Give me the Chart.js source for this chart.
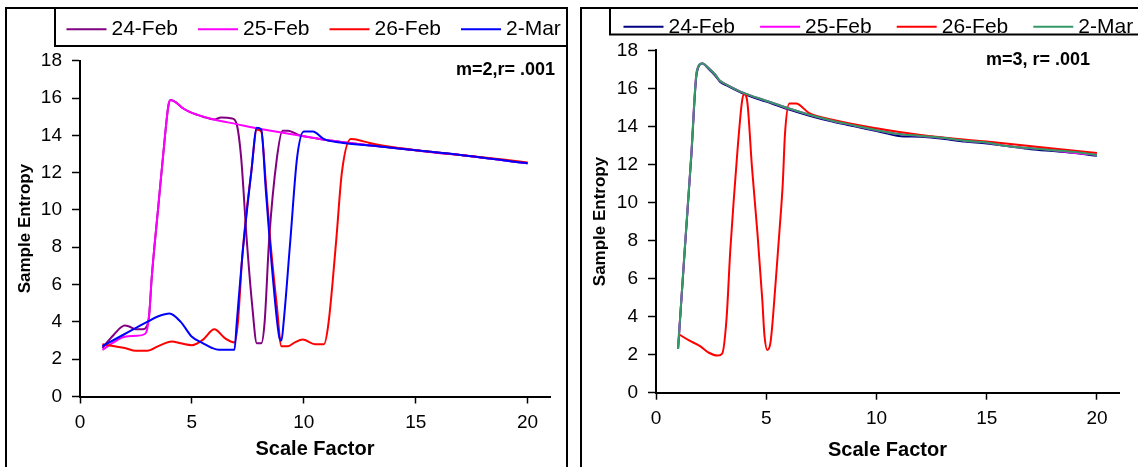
<!DOCTYPE html>
<html>
<head>
<meta charset="utf-8">
<title>Sample Entropy vs Scale Factor</title>
<script src="https://cdn.jsdelivr.net/npm/chart.js@4.4.1/dist/chart.umd.min.js"></script>
<style>
  body { margin: 0; background: #fff; width: 1138px; height: 467px; overflow: hidden; position: relative; }
  canvas { position: absolute; }
  #chartM2 { left: 6px; top: 8px; }
  #chartM3 { left: 582px; top: 8px; }
  .frame { position: absolute; border: 2px solid #000; box-sizing: border-box; pointer-events: none; }
</style>
</head>
<body>
<canvas id="chartM2" width="560" height="459"></canvas>
<canvas id="chartM3" width="556" height="459"></canvas>
<div class="frame" style="left:5px;top:7px;width:563px;height:480px"></div>
<div class="frame" style="left:580px;top:7px;width:600px;height:480px"></div>
<script>
// series labels and tick values
const days = ["24-Feb", "25-Feb", "26-Feb", "2-Mar"];
const xTickValues = [0, 5, 10, 15, 20];

// left panel: m=2, r=.001
const m2Feb24X = [1, 1.5, 2, 2.2, 2.5, 2.8, 3.0, 3.1, 3.2, 3.5, 3.8, 3.95, 4.05, 4.3, 4.6, 5, 5.5, 6, 6.3, 6.8, 7.0, 7.2, 7.45, 7.7, 7.9, 8.1, 8.25, 8.45, 8.8, 9.05, 9.3, 9.8, 10.5, 11, 12, 13, 15, 17, 20];
const m2Feb24Y = [2.6, 3.3, 3.8, 3.75, 3.6, 3.6, 3.8, 4.5, 6.3, 10.2, 14.0, 15.6, 15.9, 15.75, 15.45, 15.2, 15.0, 14.85, 14.95, 14.9, 14.6, 12.8, 8.4, 4.8, 2.85, 2.85, 4.0, 8.4, 12.8, 14.25, 14.25, 14.0, 13.85, 13.75, 13.6, 13.45, 13.2, 12.95, 12.5];

const m2Feb25X = [1, 1.5, 2, 2.5, 2.9, 3.0, 3.1, 3.2, 3.5, 3.8, 3.95, 4.05, 4.3, 4.6, 5, 6, 7, 8, 9, 10, 11, 12, 13, 14, 15, 16, 17, 18, 19, 20];
const m2Feb25Y = [2.5, 2.9, 3.2, 3.25, 3.35, 3.6, 4.5, 6.3, 10.2, 14.0, 15.6, 15.9, 15.75, 15.45, 15.2, 14.85, 14.6, 14.35, 14.15, 13.95, 13.75, 13.6, 13.45, 13.35, 13.2, 13.05, 12.95, 12.8, 12.65, 12.5];

const m2Feb26X = [1, 2, 2.5, 3.0, 3.5, 4.1, 4.5, 5.0, 5.5, 6.0, 6.5, 6.9, 7.05, 7.25, 7.45, 7.65, 7.9, 8.1, 8.3, 8.5, 8.8, 9.0, 9.3, 9.6, 9.95, 10.5, 10.9, 11.1, 11.45, 11.7, 12.1, 12.6, 12.9, 13.5, 15, 17, 20];
const m2Feb26Y = [2.8, 2.6, 2.45, 2.45, 2.7, 2.95, 2.85, 2.75, 3.05, 3.6, 3.1, 2.9, 3.9, 7.5, 10.0, 12.0, 14.3, 14.2, 11.5, 8.4, 4.8, 2.7, 2.7, 2.9, 3.05, 2.8, 2.8, 3.9, 8.4, 12.0, 13.8, 13.7, 13.6, 13.45, 13.2, 12.95, 12.55];

const m2Mar2X = [1, 2, 3, 3.5, 4, 4.5, 5, 5.5, 5.9, 6.2, 6.9, 7.0, 7.25, 7.65, 7.9, 8.1, 8.3, 8.6, 8.9, 9.0, 9.1, 9.4, 9.7, 10.0, 10.4, 10.9, 11.7, 13, 15, 17, 20];
const m2Mar2Y = [2.7, 3.35, 4.0, 4.3, 4.45, 4.0, 3.2, 2.85, 2.6, 2.5, 2.5, 3.9, 7.5, 12.0, 14.4, 14.3, 11.1, 6.6, 3.2, 3.0, 4.0, 8.4, 12.8, 14.2, 14.2, 13.8, 13.6, 13.45, 13.2, 12.95, 12.5];

// right panel: m=3, r=.001
const m3CommonX = [1, 1.3, 1.6, 1.85, 2.1, 2.4, 2.7, 2.9, 3.2, 4, 5, 6, 7, 8, 9, 10, 11, 12, 13, 14, 15, 16, 17, 18, 19, 20];
const m3Feb24Y = [2.3, 7.4, 12.4, 16.8, 17.3, 17.0, 16.65, 16.35, 16.15, 15.7, 15.3, 14.9, 14.55, 14.25, 14.0, 13.75, 13.5, 13.45, 13.35, 13.2, 13.1, 12.95, 12.8, 12.7, 12.6, 12.45];
const m3Feb25Y = [2.3, 7.5, 12.5, 16.9, 17.3, 17.05, 16.7, 16.4, 16.2, 15.75, 15.35, 14.95, 14.6, 14.3, 14.05, 13.8, 13.6, 13.5, 13.4, 13.25, 13.15, 12.95, 12.85, 12.75, 12.6, 12.5];
const m3Mar2Y = [2.3, 7.5, 12.5, 16.9, 17.3, 17.05, 16.7, 16.4, 16.2, 15.75, 15.35, 14.95, 14.6, 14.3, 14.05, 13.8, 13.6, 13.5, 13.4, 13.25, 13.15, 12.95, 12.85, 12.75, 12.65, 12.5];
const m3Feb26X = [1, 1.5, 2, 2.4, 2.8, 3.0, 3.2, 3.37, 3.55, 3.7, 3.9, 4.0, 4.15, 4.35, 4.6, 4.82, 4.92, 5.05, 5.2, 5.42, 5.6, 5.75, 5.85, 6.05, 6.35, 6.95, 8, 10, 12, 15, 20];
const m3Feb26Y = [3.1, 2.75, 2.45, 2.1, 1.95, 2.05, 3.9, 7.5, 10.5, 12.8, 15.3, 15.7, 15.2, 11.9, 8.4, 4.9, 3.0, 2.25, 2.7, 5.7, 8.5, 11.0, 13.6, 15.2, 15.2, 14.7, 14.35, 13.9, 13.55, 13.2, 12.6];

const FONT = '"Liberation Sans", Arial, sans-serif';

function pts(xs, ys) {
  return xs.map((x, i) => ({ x: x, y: ys[i] }));
}

function series(label, xs, ys, color, order) {
  return {
    label: label,
    data: pts(xs, ys),
    borderColor: color,
    backgroundColor: color,
    borderWidth: 2,
    pointRadius: 0,
    cubicInterpolationMode: "monotone",
    borderJoinStyle: "round",
    fill: false,
    order: order,
  };
}

// legend in a box plus the m/r note, drawn like the spreadsheet one
const boxLegend = {
  id: "boxLegend",
  afterDraw(chart, args, opts) {
    const ctx = chart.ctx;
    ctx.save();
    ctx.strokeStyle = "#000";
    ctx.lineWidth = 2;
    ctx.strokeRect(opts.boxLeft, 0, chart.width + 10 - opts.boxLeft, opts.boxBottom);
    ctx.font = "21px " + FONT;
    ctx.textAlign = "left";
    ctx.textBaseline = "alphabetic";
    chart.data.datasets.forEach((ds, i) => {
      const x = opts.firstX + i * opts.step;
      ctx.strokeStyle = ds.borderColor;
      ctx.lineWidth = 2;
      ctx.beginPath();
      ctx.moveTo(x, opts.lineY);
      ctx.lineTo(x + 40, opts.lineY);
      ctx.stroke();
      ctx.fillStyle = "#000";
      ctx.fillText(ds.label, x + 45, opts.textY);
    });
    ctx.font = "bold 18px " + FONT;
    ctx.textAlign = "right";
    ctx.fillText(opts.note, opts.noteX, opts.noteY);
    ctx.restore();
  },
};

function scalesFor(yWidth, xHeight, yTitlePad, xTitlePad) {
  return {
    x: {
      type: "linear",
      min: 0,
      max: 21,
      afterBuildTicks: (s) => {
        s.ticks = xTickValues.map((v) => ({ value: v }));
      },
      afterFit: (s) => {
        s.height = xHeight;
      },
      ticks: { color: "#000", font: { family: FONT, size: 19 }, padding: 8, maxRotation: 0, autoSkip: false },
      grid: { drawOnChartArea: false, drawTicks: true, tickLength: 7, color: "#000", tickWidth: 1.5 },
      border: { display: true, color: "#000", width: 2 },
      title: {
        display: true,
        text: "Scale Factor",
        color: "#000",
        font: { family: FONT, size: 20, weight: "bold" },
        padding: { top: 0, bottom: xTitlePad },
      },
    },
    y: {
      type: "linear",
      min: 0,
      max: 18,
      afterFit: (s) => {
        s.width = yWidth;
      },
      ticks: { stepSize: 2, color: "#000", font: { family: FONT, size: 19 }, padding: 10 },
      grid: { drawOnChartArea: false, drawTicks: true, tickLength: 8, color: "#000", tickWidth: 1.5 },
      border: { display: true, color: "#000", width: 2 },
      title: {
        display: true,
        text: "Sample Entropy",
        color: "#000",
        font: { family: FONT, size: 17, weight: "bold" },
        padding: { top: yTitlePad, bottom: 0 },
      },
    },
  };
}

new Chart(document.getElementById("chartM2"), {
  type: "line",
  data: {
    datasets: [
      series(days[0], m2Feb24X, m2Feb24Y, "#800080", 3),
      series(days[1], m2Feb25X, m2Feb25Y, "#FF00FF", 2),
      series(days[2], m2Feb26X, m2Feb26Y, "#FF0000", 1),
      series(days[3], m2Mar2X, m2Mar2Y, "#0000FF", 0),
    ],
  },
  options: {
    responsive: false,
    animation: false,
    layout: { padding: { top: 52.7, right: 16, bottom: 0, left: 0 } },
    scales: scalesFor(74, 70.5, 9, 6),
    plugins: {
      legend: { display: false },
      tooltip: { enabled: false },
      boxLegend: {
        boxLeft: 49,
        boxBottom: 38,
        firstX: 60.5,
        step: 131.5,
        lineY: 21.3,
        textY: 27,
        note: "m=2,r= .001",
        noteX: 549,
        noteY: 67,
      },
    },
  },
  plugins: [boxLegend],
});

new Chart(document.getElementById("chartM3"), {
  type: "line",
  data: {
    datasets: [
      series(days[0], m3CommonX, m3Feb24Y, "#000080", 3),
      series(days[1], m3CommonX, m3Feb25Y, "#FF00FF", 2),
      series(days[2], m3Feb26X, m3Feb26Y, "#FF0000", 1),
      series(days[3], m3CommonX, m3Mar2Y, "#339966", 0),
    ],
  },
  options: {
    responsive: false,
    animation: false,
    layout: { padding: { top: 42.3, right: 19, bottom: 0, left: 0 } },
    scales: scalesFor(74, 74.3, 8, 5),
    plugins: {
      legend: { display: false },
      tooltip: { enabled: false },
      boxLegend: {
        boxLeft: 28,
        boxBottom: 26.5,
        firstX: 41.5,
        step: 136.6,
        lineY: 18.7,
        textY: 25,
        note: "m=3, r= .001",
        noteX: 508,
        noteY: 57,
      },
    },
  },
  plugins: [boxLegend],
});
</script>
</body>
</html>
